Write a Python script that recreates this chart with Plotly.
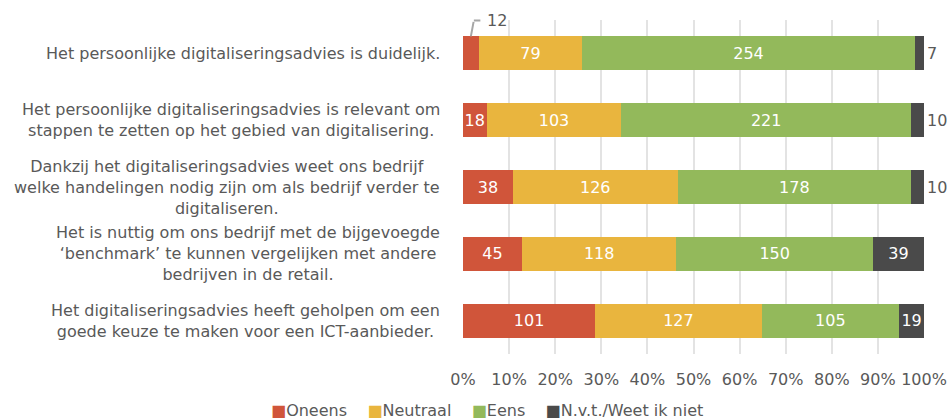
import plotly.graph_objects as go

statements = [
    "Het persoonlijke digitaliseringsadvies is duidelijk.",
    "Het persoonlijke digitaliseringsadvies is relevant om<br>stappen te zetten op het gebied van digitalisering.",
    "Dankzij het digitaliseringsadvies weet ons bedrijf<br>welke handelingen nodig zijn om als bedrijf verder te<br>digitaliseren.",
    "Het is nuttig om ons bedrijf met de bijgevoegde<br>‘benchmark’ te kunnen vergelijken met andere<br>bedrijven in de retail.",
    "Het digitaliseringsadvies heeft geholpen om een<br>goede keuze te maken voor een ICT-aanbieder.",
]
oneens = [12, 18, 38, 45, 101]
neutraal = [79, 103, 126, 118, 127]
eens = [254, 221, 178, 150, 105]
nvt = [7, 10, 10, 39, 19]

series = [
    ("Oneens", oneens, "#d0553a"),
    ("Neutraal", neutraal, "#e9b53e"),
    ("Eens", eens, "#93b95b"),
    ("N.v.t./Weet ik niet", nvt, "#4a4a4a"),
]

FONT = "DejaVu Sans, Verdana, sans-serif"
GREY = "#595959"
SIZE = 16
cats = list(range(len(statements)))
totals = [sum(v) for v in zip(oneens, neutraal, eens, nvt)]

fig = go.Figure()
for name, vals, color in series:
    shares = [v / t for v, t in zip(vals, totals)]
    fig.add_trace(go.Bar(
        name=name,
        y=cats,
        x=vals,
        orientation="h",
        marker=dict(color=color, line=dict(width=0)),
        text=[str(v) if s >= 0.04 else "" for v, s in zip(vals, shares)],
        textposition="inside",
        insidetextanchor="middle",
        textangle=0,
        textfont=dict(color="white", size=SIZE, family=FONT),
        hoverinfo="skip",
    ))

# small N.v.t. values sit to the right of the bar
for i, (v, t) in enumerate(zip(nvt, totals)):
    if v / t < 0.04:
        fig.add_annotation(x=100, y=i, xref="x", yref="y", text=str(v),
                           showarrow=False, xanchor="left", xshift=1,
                           font=dict(size=SIZE, color=GREY, family=FONT))

# small Oneens value gets a bent leader line above the bar
lead = dict(text="", showarrow=True, arrowhead=0, arrowwidth=2,
            arrowcolor="#a6a6a6", standoff=0, startstandoff=0,
            xref="x", yref="y")
for i, (v, t) in enumerate(zip(oneens, totals)):
    if v / t < 0.04:
        mid = v / t * 100 / 2
        fig.add_annotation(x=mid, y=i, yshift=17, ax=3, ay=-16, **lead)
        fig.add_annotation(x=mid, y=i, xshift=3, yshift=33, ax=8, ay=0, **lead)
        fig.add_annotation(x=mid, y=i, xref="x", yref="y", text=str(v),
                           showarrow=False, xanchor="left", xshift=14, yshift=33,
                           font=dict(size=SIZE, color=GREY, family=FONT))

for i, label in enumerate(statements):
    fig.add_annotation(x=-0.045, y=i, xref="paper", yref="y", text=label,
                       showarrow=False, xanchor="right", align="center",
                       font=dict(size=SIZE, color=GREY, family=FONT))

# legend drawn as text so the square sits close to its label
legend_text = "    ".join(
    f"<span style='color:{c}'>■</span>{n}" for n, _, c in series)
fig.add_annotation(x=0.052, y=-0.168, xref="paper", yref="paper", text=legend_text,
                   showarrow=False, xanchor="center", yanchor="middle",
                   font=dict(size=SIZE, color=GREY, family=FONT))

fig.update_layout(
    width=949, height=419,
    barmode="stack", barnorm="percent", bargap=0.49,
    plot_bgcolor="white", paper_bgcolor="white",
    margin=dict(l=463, r=25, t=20, b=65, autoexpand=False),
    font=dict(family=FONT, size=SIZE, color=GREY),
    showlegend=False,
    uniformtext=dict(minsize=SIZE, mode="show"),
)
fig.update_xaxes(range=[0, 100], dtick=10, ticksuffix="%", showgrid=True,
                 gridcolor="#e3e3e3", gridwidth=2, zeroline=False,
                 ticks="outside", ticklen=11, tickcolor="rgba(0,0,0,0)",
                 tickfont=dict(size=SIZE, color=GREY))
fig.update_yaxes(autorange="reversed", showticklabels=False, showgrid=False,
                 zeroline=False)

# drop the default body margin so the figure fills the window exactly
fig.write_html("out.html", config={"displayModeBar": False},
               post_script="document.body.style.margin='0';document.body.style.overflow='hidden';")
